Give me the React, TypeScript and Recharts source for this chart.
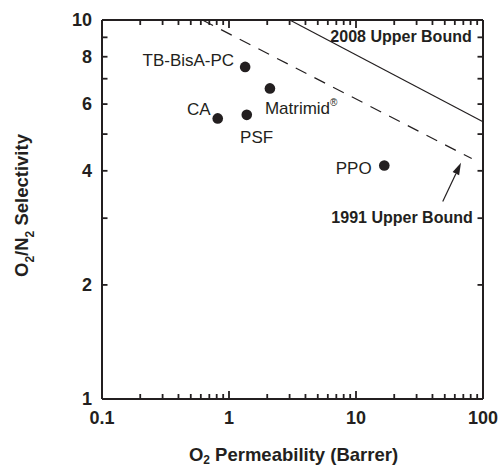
import React from 'react';
import { ScatterChart, Scatter, XAxis, YAxis, ReferenceLine, ReferenceDot } from 'recharts';

const INK = '#231f20';

// measured points (O2 permeability in Barrer, O2/N2 selectivity)
const materials = ['TB-BisA-PC', 'CA', 'PSF', 'Matrimid®', 'PPO'];
const o2Permeability = [1.34, 0.815, 1.38, 2.1, 16.7];
const o2n2Selectivity = [7.52, 5.5, 5.62, 6.6, 4.13];

// Robeson upper bounds (straight lines in log-log)
const bound2008Permeability = [3.01, 100];
const bound2008Selectivity = [10, 5.39];
const bound1991Permeability = [0.617, 81.5];
const bound1991Selectivity = [10, 4.31];

const xTicks = [
  0.1, 0.2, 0.3, 0.4, 0.5, 0.6, 0.7, 0.8, 0.9,
  1, 2, 3, 4, 5, 6, 7, 8, 9,
  10, 20, 30, 40, 50, 60, 70, 80, 90, 100,
];
const xMajorTicks = [0.1, 1, 10, 100];
const yTicks = [1, 2, 3, 4, 5, 6, 7, 8, 9, 10];
const yLabelTicks = [1, 2, 4, 6, 8, 10];

const points = materials.map((name, i) => ({ name, x: o2Permeability[i], y: o2n2Selectivity[i] }));
const seg = (xs: number[], ys: number[]) => xs.map((x, i) => ({ x, y: ys[i] }));

// label placement around each dot (px)
const labelPlacement: Record<string, { dx: number; dy: number; anchor: 'start' | 'end' }> = {
  'TB-BisA-PC': { dx: -11, dy: -1, anchor: 'end' },
  CA: { dx: -7, dy: -3.5, anchor: 'end' },
  PSF: { dx: -6.7, dy: 28.4, anchor: 'start' },
  'Matrimid®': { dx: -5, dy: 25.7, anchor: 'start' },
  PPO: { dx: -12.6, dy: 8.3, anchor: 'end' },
};

const PointShape = (props: any) => {
  const { cx, cy, payload } = props;
  const p = labelPlacement[payload.name] || { dx: 8, dy: 0, anchor: 'start' };
  const sup = payload.name.endsWith('®');
  const base = sup ? payload.name.slice(0, -1) : payload.name;
  return (
    <g>
      <circle cx={cx} cy={cy} r={5.3} fill={INK} />
      <text x={cx + p.dx} y={cy + p.dy} textAnchor={p.anchor} fontSize={17} fill={INK}>
        {base}
        {sup && (
          <tspan fontSize={10} dy={-8}>
            ®
          </tspan>
        )}
      </text>
    </g>
  );
};

const BottomLabel = (props: any) => {
  const { x, y, payload } = props;
  return (
    <text x={x} y={y + 25.3} textAnchor="middle" fontSize={18} fontWeight="bold" fill={INK}>
      {payload.value}
    </text>
  );
};

const LeftLabel = (props: any) => {
  const { x, y, payload } = props;
  return (
    <text x={x - 10} y={y + 6.3} textAnchor="end" fontSize={18} fontWeight="bold" fill={INK}>
      {payload.value}
    </text>
  );
};

// inward tick marks at both ends of a full-height / full-width reference line
const VTicks = (len: number) => (props: any) => {
  const { x1, y1, y2 } = props;
  const b = Math.max(y1, y2);
  const t = Math.min(y1, y2);
  return (
    <g>
      <line x1={x1} x2={x1} y1={b} y2={b - len} stroke={INK} strokeWidth={1.8} />
      <line x1={x1} x2={x1} y1={t} y2={t + len} stroke={INK} strokeWidth={1.8} />
    </g>
  );
};

const HTicks = (len: number) => (props: any) => {
  const { x1, x2, y1 } = props;
  const l = Math.min(x1, x2);
  const r = Math.max(x1, x2);
  return (
    <g>
      <line x1={l} x2={l + len} y1={y1} y2={y1} stroke={INK} strokeWidth={1.8} />
      <line x1={r} x2={r - len} y1={y1} y2={y1} stroke={INK} strokeWidth={1.8} />
    </g>
  );
};

const XTitle = (props: any) => {
  const { viewBox } = props;
  const cx = viewBox.x + viewBox.width / 2 + 1;
  return (
    <text x={cx} y={viewBox.y + 61.7} textAnchor="middle" fontSize={18.5} fontWeight="bold" fill={INK}>
      O
      <tspan fontSize={12} dy={3.5}>
        2
      </tspan>
      <tspan dy={-3.5}> Permeability (Barrer)</tspan>
    </text>
  );
};

const YTitle = (props: any) => {
  const { viewBox } = props;
  const x = viewBox.x + 28;
  const y = viewBox.y + viewBox.height / 2 - 4;
  return (
    <text x={x} y={y} transform={`rotate(-90, ${x}, ${y})`} textAnchor="middle" fontSize={18.5} fontWeight="bold" fill={INK}>
      O
      <tspan fontSize={12} dy={6}>
        2
      </tspan>
      <tspan dy={-6}>/N</tspan>
      <tspan fontSize={12} dy={6}>
        2
      </tspan>
      <tspan dy={-6}> Selectivity</tspan>
    </text>
  );
};

const ArrowShape = (props: any) => {
  const { x1, y1, x2, y2 } = props;
  const ang = Math.atan2(y2 - y1, x2 - x1);
  const len = 12;
  const half = 3.6;
  const bx = x2 - len * Math.cos(ang);
  const by = y2 - len * Math.sin(ang);
  const px = -Math.sin(ang) * half;
  const py = Math.cos(ang) * half;
  return (
    <g>
      <line x1={x1} y1={y1} x2={bx} y2={by} stroke={INK} strokeWidth={1.2} />
      <polygon points={`${x2},${y2} ${bx + px},${by + py} ${bx - px},${by - py}`} fill={INK} />
    </g>
  );
};

const BoundLabel = (text: string) => (props: any) => (
  <text x={props.cx} y={props.cy} textAnchor="end" fontSize={16} fontWeight="bold" fill={INK}>
    {text}
  </text>
);

export default function App() {
  const axisLine = { stroke: INK, strokeWidth: 2 };
  return (
    <div
      style={{
        position: 'absolute',
        left: 0,
        top: 0,
        width: 501,
        height: 468,
        background: '#fff',
        fontFamily: "'Liberation Sans', Arial, Helvetica, sans-serif",
      }}
    >
      <ScatterChart width={501} height={468} margin={{ top: 20, right: 18, bottom: 0, left: 0 }}>
        <XAxis
          type="number"
          dataKey="x"
          scale="log"
          domain={[0.1, 100]}
          allowDataOverflow
          ticks={xMajorTicks}
          interval={0}
          height={69}
          axisLine={axisLine}
          tickLine={false}
          tickSize={0}
          tickMargin={0}
          tick={<BottomLabel />}
          label={<XTitle />}
        />
        <YAxis
          type="number"
          dataKey="y"
          scale="log"
          domain={[1, 10]}
          allowDataOverflow
          ticks={yLabelTicks}
          interval={0}
          width={102}
          axisLine={axisLine}
          tickLine={false}
          tickSize={0}
          tickMargin={0}
          tick={<LeftLabel />}
          label={<YTitle />}
        />
        <ReferenceLine y={10} stroke={INK} strokeWidth={2} ifOverflow="visible" />
        <ReferenceLine x={100} stroke={INK} strokeWidth={2} ifOverflow="visible" />
        {xTicks.map((t) => (
          <ReferenceLine key={`xt${t}`} x={t} ifOverflow="visible" shape={VTicks(xMajorTicks.includes(t) ? 8 : 5)} />
        ))}
        {yTicks.map((t) => (
          <ReferenceLine key={`yt${t}`} y={t} ifOverflow="visible" shape={HTicks(5.5)} />
        ))}
        <ReferenceLine
          segment={seg(bound2008Permeability, bound2008Selectivity)}
          stroke={INK}
          strokeWidth={1.2}
          ifOverflow="visible"
        />
        <ReferenceLine
          segment={seg(bound1991Permeability, bound1991Selectivity)}
          stroke={INK}
          strokeWidth={1.2}
          strokeDasharray="12 9"
          ifOverflow="visible"
        />
        <Scatter data={points} shape={PointShape} isAnimationActive={false} />
        <ReferenceLine
          segment={[
            { x: 48.2, y: 3.32 },
            { x: 67.1, y: 4.2 },
          ]}
          shape={ArrowShape}
        />
        <ReferenceDot x={81.5} y={8.76} shape={BoundLabel('2008 Upper Bound')} />
        <ReferenceDot x={83} y={2.91} shape={BoundLabel('1991 Upper Bound')} />
      </ScatterChart>
    </div>
  );
}
